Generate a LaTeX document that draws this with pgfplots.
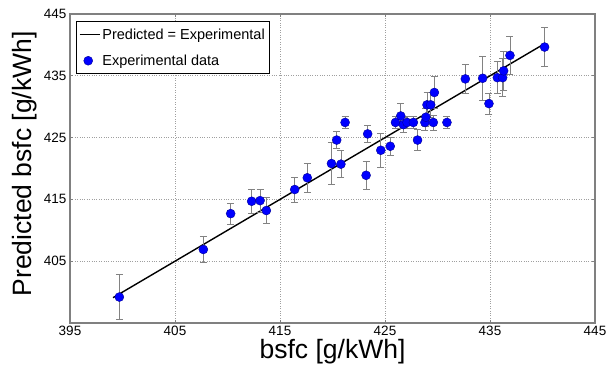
\documentclass[border=0pt]{standalone}
\usepackage{pgfplots}
\pgfplotsset{compat=1.18}
\usepackage{pgfplotstable}
\usepackage{fontspec}
\setmainfont{Liberation Sans}
\definecolor{mkblue}{RGB}{0,0,255}
\definecolor{mkedge}{RGB}{0,0,150}
\definecolor{errgray}{RGB}{130,130,130}
\definecolor{axgray}{RGB}{128,128,128}
\pgfplotstableread{
x y e
399.7 399.2 3.6
407.7 406.9 2.1
410.3 412.7 1.7
412.3 414.7 1.9
413.1 414.8 1.9
413.7 413.2 2.1
416.4 416.6 2.0
417.6 418.5 2.3
419.9 420.8 3.4
420.4 424.6 1.4
420.8 420.7 2.2
421.2 427.45 1.0
423.2 418.9 2.2
423.35 425.6 1.4
424.6 422.95 2.7
425.5 423.6 1.4
426.0 427.45 1.0
426.5 428.5 2.0
426.75 427.1 1.2
427.1 427.45 1.0
427.7 427.45 1.0
428.1 424.6 1.7
428.8 427.45 1.2
428.9 428.3 1.5
429.0 430.3 2.0
429.35 430.3 2.0
429.6 427.45 1.2
429.7 432.3 2.6
430.9 427.45 1.0
432.65 434.5 2.4
434.3 434.6 3.5
434.9 430.5 1.7
435.7 434.7 2.6
436.2 434.7 3.1
436.3 435.8 3.2
436.9 438.3 3.1
440.2 439.65 3.2
}\expdata
\begin{document}
\begin{tikzpicture}
\begin{axis}[
  name=ax,
  scale only axis, width=525pt, height=309pt,
  xmin=395, xmax=445, ymin=395, ymax=445,
  xtick={395,405,...,445}, ytick={405,415,...,445},
  grid=major,
  grid style={dotted, gray!75, line width=0.6pt},
  axis line style={draw=axgray, line width=1.3pt},
  tick style={draw=axgray, line width=0.6pt},
  major tick length=3pt,
  tick align=inside,
  ticklabel style={font=\fontsize{13.5}{15}\selectfont},
  /pgf/number format/assume math mode=true,
  /pgf/number format/.cd, 1000 sep={}, /pgfplots/.cd,
  xlabel={bsfc [g/kWh]},
  ylabel={Predicted bsfc [g/kWh]},
  label style={font=\fontsize{26.5}{30}\selectfont},
  xlabel style={at={(axis description cs:0.5,-0.094)}, anchor=center},
  ylabel style={at={(axis description cs:-0.0857,0.515)}, anchor=center, rotate=0},
  legend style={at={(axis description cs:0.0114,0.975)}, anchor=north west,
    draw=black, line width=0.7pt, font=\fontsize{14.5}{16}\selectfont,
    inner xsep=3pt, inner ysep=5pt, row sep=10pt, outer sep=0pt, fill=white},
  legend cell align=left,
]
\addplot[black, line width=1.4pt, no marks,
  legend image code/.code={\draw[black,line width=1.4pt] (0pt,0pt) -- (20pt,0pt);}]
  coordinates {(399.1,399.1) (440.2,440.2)};
\addlegendentry{Predicted = Experimental\hspace{8pt}}
\addplot[only marks, mark=*, mark size=4.5pt,
  mark options={fill=mkblue, draw=mkedge, line width=0.4pt},
  error bars/.cd, y dir=both, y explicit,
  error bar style={errgray, line width=0.7pt},
  error mark options={rotate=90, mark size=3.5pt, errgray, line width=0.7pt}]
  table[x=x, y=y, y error=e] {\expdata};
\addlegendentry{Experimental data}
\end{axis}
\pgfresetboundingbox
\path[use as bounding box] ([shift={(-70pt,-49pt)}]ax.south west) rectangle ([shift={(11pt,14pt)}]ax.north east);
\end{tikzpicture}
\end{document}
